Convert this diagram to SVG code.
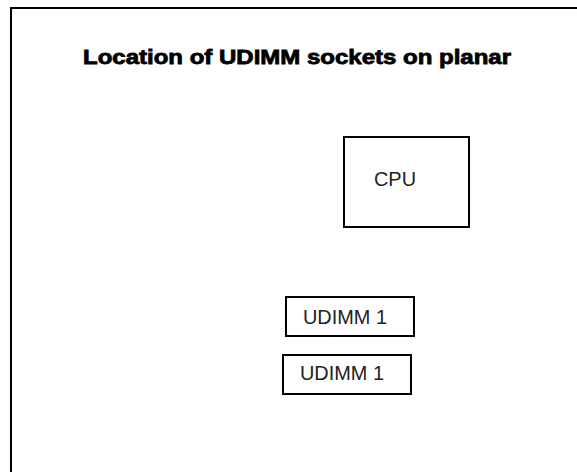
<svg xmlns="http://www.w3.org/2000/svg" width="577" height="472" viewBox="0 0 577 472">
<style>
.frame{fill:none;stroke:#000;stroke-width:2}
.box{fill:#fff;stroke:#000;stroke-width:2}
.lbl{font-family:"Liberation Sans",Arial,sans-serif;fill:#222}
.title{font-family:"Liberation Sans",Arial,sans-serif;font-weight:900;fill:#000;stroke:#000;stroke-width:0.8}
</style>
<rect width="577" height="472" fill="#fff"/>
<rect class="frame" x="11" y="8" width="600" height="500"/>
<text class="title" x="83" y="63.5" font-size="20.5" textLength="428" lengthAdjust="spacingAndGlyphs">Location of UDIMM sockets on planar</text>
<g id="connectors"></g>
<g id="cpu">
<rect class="box" x="344" y="137" width="125" height="90"/>
<text class="lbl" x="374" y="186" font-size="20" textLength="42" lengthAdjust="spacingAndGlyphs">CPU</text>
</g>
<g id="udimm1a">
<rect class="box" x="286" y="297" width="128" height="39"/>
<text class="lbl" x="303" y="323.5" font-size="19.5" textLength="84" lengthAdjust="spacingAndGlyphs">UDIMM 1</text>
</g>
<g id="udimm1b">
<rect class="box" x="283" y="355" width="128" height="39"/>
<text class="lbl" x="300" y="380" font-size="19.5" textLength="84" lengthAdjust="spacingAndGlyphs">UDIMM 1</text>
</g>
</svg>
